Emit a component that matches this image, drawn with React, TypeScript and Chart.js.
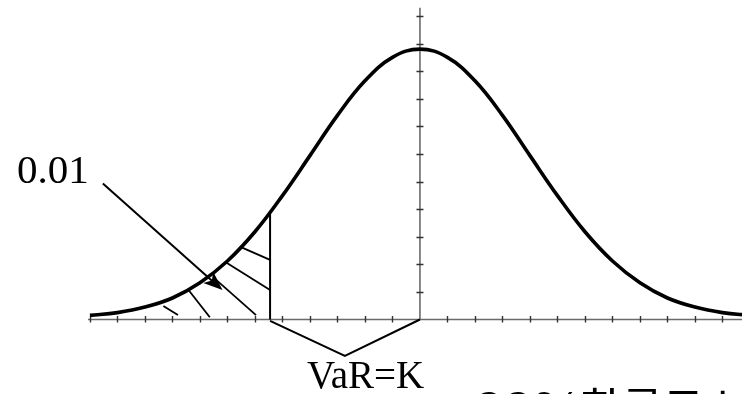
import React, { useEffect, useRef } from "react";
import { Chart, registerables } from "chart.js";

Chart.register(...registerables);

// Density curve sampled at each x-axis tick (tick units)
const X_VALUES = [-12, -11, -10, -9, -8, -7, -6, -5, -4, -3, -2, -1, 0, 1, 2, 3, 4, 5, 6, 7, 8, 9, 10, 11, 12];
const DENSITY = [0.15, 0.25, 0.45, 0.78, 1.33, 2.12, 3.18, 4.49, 5.94, 7.4, 8.65, 9.5, 9.8, 9.5, 8.65, 7.4, 5.94, 4.49, 3.18, 2.12, 1.33, 0.78, 0.45, 0.25, 0.15];

const X_TICKS = [-12, -11, -10, -9, -8, -7, -6, -5, -4, -3, -2, -1, 1, 2, 3, 4, 5, 6, 7, 8, 9, 10, 11];
const Y_TICKS = [1, 2, 3, 4, 5, 6, 7, 8, 9, 10, 11];
const X_AXIS_START = -12.07;
const Y_AXIS_TOP = 11.3;

const VAR_X = -5.45;
const VAR_TOP = 3.85;

// hatch segments [x1, y1, x2, y2] in data units
const HATCH_LINES = [
  [-9.33, 0.49, -8.8, 0.16],
  [-8.43, 1.09, -7.64, 0.08],
  [-7.45, 1.47, -5.96, 0.16],
  [-7.09, 2.09, -5.45, 1.07],
  [-6.55, 2.64, -5.45, 2.16],
];
const ARROW_FROM = [-11.53, 4.93];
const ARROW_TO = [-7.18, 1.07];
const BRACKET = [
  [-5.45, -0.05],
  [-2.73, -1.32],
  [0, 0],
];

const LABEL_PROB = "0.01";
const LABEL_PROB_POS = [-14.65, 4.93];
const LABEL_VAR = "VaR=K";
const LABEL_VAR_POS = [-4.11, -2.48];
const LABEL_BOTTOM_NUM = "99%";
const LABEL_BOTTOM_NUM_POS = [2.0, -3.99];
const LABEL_BOTTOM_TEXT = "확률로 보장";
const LABEL_BOTTOM_TEXT_POS = [5.82, -3.86];

const X_MIN = -15.27;
const X_MAX = 11.71;
const Y_MIN = -2.7;
const Y_MAX = 11.58;

const annotations = {
  id: "annotations",
  beforeDatasetsDraw(chart: any) {
    const { ctx, scales } = chart;
    const xs = scales.x;
    const ys = scales.y;
    const px = (v: number) => xs.getPixelForValue(v);
    const py = (v: number) => ys.getPixelForValue(v);
    ctx.save();
    // x axis
    ctx.strokeStyle = "#6a6a6a";
    ctx.lineWidth = 1.6;
    ctx.beginPath();
    ctx.moveTo(px(X_AXIS_START), py(0));
    ctx.lineTo(px(X_MAX), py(0));
    ctx.stroke();
    // y axis
    ctx.beginPath();
    ctx.moveTo(px(0), py(0));
    ctx.lineTo(px(0), py(Y_AXIS_TOP));
    ctx.stroke();
    // ticks
    ctx.strokeStyle = "#333";
    ctx.lineWidth = 1.4;
    ctx.beginPath();
    X_TICKS.forEach((t) => {
      const x = Math.round(px(t)) + 0.5;
      ctx.moveTo(x, py(0) - 3.5);
      ctx.lineTo(x, py(0) + 3);
    });
    Y_TICKS.forEach((t) => {
      const y = Math.round(py(t)) + 0.5;
      ctx.moveTo(px(0) - 3.5, y);
      ctx.lineTo(px(0) + 3.5, y);
    });
    ctx.stroke();
    ctx.restore();
  },
  afterDatasetsDraw(chart: any) {
    const { ctx, scales } = chart;
    const xs = scales.x;
    const ys = scales.y;
    const px = (v: number) => xs.getPixelForValue(v);
    const py = (v: number) => ys.getPixelForValue(v);
    ctx.save();
    ctx.strokeStyle = "#000";
    ctx.fillStyle = "#000";
    ctx.lineCap = "butt";
    // VaR vertical line
    ctx.lineWidth = 2;
    ctx.beginPath();
    ctx.moveTo(px(VAR_X), py(0));
    ctx.lineTo(px(VAR_X), py(VAR_TOP));
    ctx.stroke();
    // hatch
    ctx.lineWidth = 1.8;
    HATCH_LINES.forEach(([x1, y1, x2, y2]) => {
      ctx.beginPath();
      ctx.moveTo(px(x1), py(y1));
      ctx.lineTo(px(x2), py(y2));
      ctx.stroke();
    });
    // bracket
    ctx.lineWidth = 2;
    ctx.beginPath();
    BRACKET.forEach(([x, y], i) => {
      if (i === 0) ctx.moveTo(px(x), py(y));
      else ctx.lineTo(px(x), py(y));
    });
    ctx.stroke();
    // arrow
    const ax1 = px(ARROW_FROM[0]);
    const ay1 = py(ARROW_FROM[1]);
    const ax2 = px(ARROW_TO[0]);
    const ay2 = py(ARROW_TO[1]);
    const ang = Math.atan2(ay2 - ay1, ax2 - ax1);
    const headLen = 19;
    const headW = 7.5;
    ctx.lineWidth = 2;
    ctx.beginPath();
    ctx.moveTo(ax1, ay1);
    ctx.lineTo(ax2 - Math.cos(ang) * headLen * 0.7, ay2 - Math.sin(ang) * headLen * 0.7);
    ctx.stroke();
    const bx = ax2 - Math.cos(ang) * headLen;
    const by = ay2 - Math.sin(ang) * headLen;
    const nx = -Math.sin(ang);
    const ny = Math.cos(ang);
    const mx = ax2 - Math.cos(ang) * headLen * 0.75;
    const my = ay2 - Math.sin(ang) * headLen * 0.75;
    ctx.beginPath();
    ctx.moveTo(ax2, ay2);
    ctx.lineTo(bx + nx * headW, by + ny * headW);
    ctx.lineTo(mx, my);
    ctx.lineTo(bx - nx * headW, by - ny * headW);
    ctx.closePath();
    ctx.fill();
    // labels
    ctx.textBaseline = "alphabetic";
    ctx.textAlign = "left";
    ctx.font = "41px 'Liberation Serif', serif";
    ctx.fillText(LABEL_PROB, px(LABEL_PROB_POS[0]), py(LABEL_PROB_POS[1]));
    ctx.font = "39px 'Liberation Serif', serif";
    ctx.fillText(LABEL_VAR, px(LABEL_VAR_POS[0]), py(LABEL_VAR_POS[1]));
    ctx.font = "58px 'Liberation Serif', serif";
    ctx.fillText(LABEL_BOTTOM_NUM, px(LABEL_BOTTOM_NUM_POS[0]), py(LABEL_BOTTOM_NUM_POS[1]));
    ctx.font = "45px 'Noto Sans CJK KR', sans-serif";
    ctx.fillText(LABEL_BOTTOM_TEXT, px(LABEL_BOTTOM_TEXT_POS[0]), py(LABEL_BOTTOM_TEXT_POS[1]));
    ctx.restore();
  },
};

export default function App() {
  const ref = useRef<HTMLCanvasElement | null>(null);
  useEffect(() => {
    if (!ref.current) return;
    const chart = new Chart(ref.current, {
      type: "line",
      data: {
        datasets: [
          {
            data: X_VALUES.map((x, i) => ({ x, y: DENSITY[i] })),
            borderColor: "#000",
            borderWidth: 3.6,
            pointRadius: 0,
            tension: 0.4,
            fill: false,
          },
        ],
      },
      options: {
        animation: false,
        responsive: false,
        maintainAspectRatio: false,
        layout: { padding: 0 },
        plugins: { legend: { display: false }, tooltip: { enabled: false } },
        scales: {
          x: { type: "linear", min: X_MIN, max: X_MAX, display: false },
          y: { type: "linear", min: Y_MIN, max: Y_MAX, display: false },
        },
      },
      plugins: [annotations],
    });
    return () => chart.destroy();
  }, []);
  return (
    <div style={{ position: "fixed", left: 0, top: 0, width: 742, height: 394, background: "#fff" }}>
      <canvas ref={ref} width={742} height={394} style={{ width: 742, height: 394, display: "block" }} />
    </div>
  );
}
